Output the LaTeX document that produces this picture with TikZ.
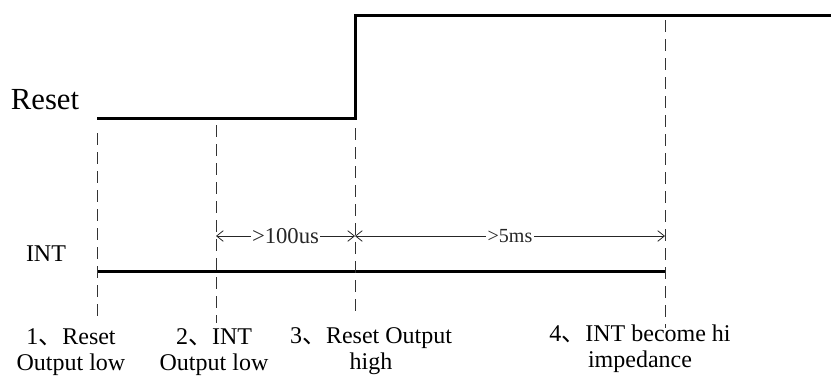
\documentclass[tikz,border=0pt]{standalone}
\usepackage{fontspec}
\setmainfont{Liberation Serif}
\newfontfamily\cjkfont{Noto Sans CJK SC}
\usetikzlibrary{arrows.meta}
\newcommand{\dun}{{\cjkfont 、}}

\begin{document}
\begin{tikzpicture}[
    x=0.75pt, y=-0.75pt,
    signal/.style={line width=2.25pt, line join=miter},
    marker/.style={line width=0.75pt, dash pattern=on 9pt off 5.25pt, color=black!80},
    span/.style={{Straight Barb[length=5pt,width=8pt]}-{Straight Barb[length=5pt,width=8pt]}, line width=0.6pt, color=black!85},
    signame/.style={anchor=base, inner sep=0pt, font=\fontsize{18}{20}\selectfont},
    event/.style={anchor=base, align=center, inner sep=0pt, font=\fontsize{18}{19.5}\selectfont},
    delay/.style={fill=white, inner sep=1pt, font=\fontsize{17}{20}\selectfont}
]
\useasboundingbox (0,0) rectangle (831,376);

% ==================== RESET SIGNAL ====================
\node[signame, font=\fontsize{23}{26}\selectfont] (reset) at (45,109) {Reset};
\coordinate (rstlow) at (97,118);
\coordinate (rststep) at (355,118);
\coordinate (rsthigh) at (355,15.5);
\coordinate (rstend) at (831,15.5);
\draw[signal] (rstlow) -- (rststep) -- (rsthigh) -- (rstend);

% ==================== INT SIGNAL ====================
\node[signame] (int) at (46,261) {INT};
\coordinate (intlow) at (97,271);
\coordinate (intend) at (665,271);
\draw[signal] (intlow) -- (intend);

% ==================== EVENT MARKERS ====================
% Dashed lines at each event
\coordinate (m1top) at (97,133);
\coordinate (m1bot) at (97,322);
\coordinate (m2top) at (216,125);
\coordinate (m2bot) at (216,323);
\coordinate (m3top) at (355,128);
\coordinate (m3bot) at (355,317);
\coordinate (m4top) at (665,20);
\coordinate (m4bot) at (665,328);
\draw[marker] (m1top) -- (m1bot);
\draw[marker] (m2top) -- (m2bot);
\draw[marker] (m3top) -- (m3bot);
\draw[marker] (m4top) -- (m4bot);

% Delays between events
\coordinate (d2) at (216,236);
\coordinate (d3) at (355,236);
\coordinate (d4) at (665,236);
\draw[span] (d2) -- node[delay] {>100us} (d3);
\draw[span] (d3) -- node[delay, font=\fontsize{15}{18}\selectfont] {>5ms} (d4);

% Event labels (anchored at the baseline of the second line)
\node[event] (ev1) at (71,370) {1\dun Reset\\Output low};
\node[event] (ev2) at (214,370) {2\dun INT\\Output low};
\node[event] (ev3) at (371,369) {3\dun Reset Output\\high};
\node[event] (ev4) at (640,367) {4\dun INT become hi\\impedance};

\end{tikzpicture}
\end{document}
